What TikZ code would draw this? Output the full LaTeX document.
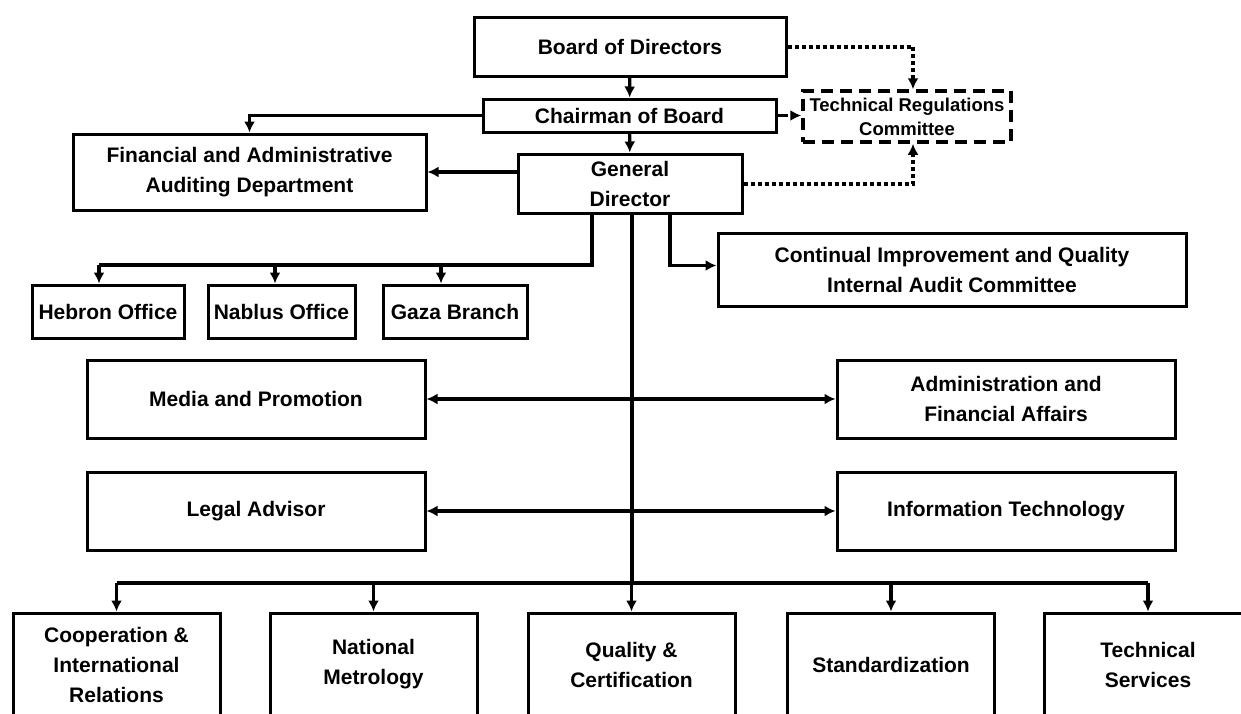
\documentclass[tikz,border=0pt]{standalone}
\usepackage{fontspec}
\setmainfont{Liberation Sans}
\usetikzlibrary{arrows.meta}

\begin{document}
\begin{tikzpicture}[x=0.5pt, y=-0.5pt, >={Latex[length=5.5pt,width=5.5pt]},
  box/.style={draw, line width=1.5pt, align=center, inner sep=0pt,
    font=\bfseries\fontsize{10.5}{15}\selectfont},
  unit/.style={box, minimum width=169pt, minimum height=39pt},
  dept/.style={box, minimum width=103.5pt, minimum height=51.5pt},
  office/.style={box, minimum height=26.5pt},
  link/.style={line width=1.6pt},
  dots/.style={line width=2pt, dash pattern=on 2pt off 1.5pt}]
  \useasboundingbox (0,0) rectangle (1241,713);
  \clip (0,0) rectangle (1241,713);
  \fill[white] (0,0) rectangle (1241,713);

  \node[box, minimum width=156pt, minimum height=29.5pt] (board) at (630,46.5) {Board of Directors};
  \node[box, minimum width=146.5pt, minimum height=16.5pt] (chair) at (629.5,115.5) {Chairman of Board};
  \node[box, minimum width=112pt, minimum height=29.5pt] (gd) at (630,183.5) {General\\Director};
  \node[box, dash pattern=on 6pt off 3.5pt, line width=1.75pt, minimum width=104pt, minimum height=25.5pt,
    font=\bfseries\fontsize{9.25}{12}\selectfont] (trc) at (907,116.5) {Technical Regulations\\Committee};
  \node[box, minimum width=176.5pt, minimum height=38pt] (faad) at (249.5,172) {Financial and Administrative\\Auditing Department};
  \node[box, minimum width=234pt, minimum height=36.5pt] (ciq) at (952,269.5) {Continual Improvement and Quality\\Internal Audit Committee};

  \node[office, minimum width=76pt] (hebron) at (108,311.5) {Hebron Office};
  \node[office, minimum width=73.5pt] (nablus) at (281.5,311.5) {Nablus Office};
  \node[office, minimum width=72pt] (gaza) at (455,311.5) {Gaza Branch};

  \node[unit] (media) at (256,399) {Media and Promotion};
  \node[unit] (admin) at (1006,399) {Administration and\\Financial Affairs};
  \node[unit] (legal) at (256,511) {Legal Advisor};
  \node[unit] (infotech) at (1006,511) {Information Technology};

  \node[dept] (coop) at (116.5,664.5) {Cooperation \&\\International\\Relations};
  \node[dept] (metro) at (373.5,664.5) {National\\Metrology};
  \node[dept] (quality) at (631.5,664.5) {Quality \&\\Certification};
  \node[dept] (stand) at (891,664.5) {Standardization};
  \node[dept] (techserv) at (1148,664.5) {Technical\\Services};

  \coordinate (offbar) at (99,265);
  \coordinate (hub) at (632,583);

  \draw[link, ->] (board) -- (chair);
  \draw[link, ->] (chair) -- (gd);
  \draw[link, ->] (chair.west) -| (faad.north);
  \draw[link, ->] (faad.east -| gd.west) -- (faad.east);
  \draw[link, dash pattern=on 5pt off 4pt, ->] (chair.east) -- (chair.east -| trc.west);
  \draw[dots, ->] (board.east) -| ([xshift=3pt]trc.north);
  \draw[dots, ->] (gd.east) -| ([xshift=3pt]trc.south);

  \draw[link] ([xshift=-19pt]gd.south) |- (offbar);
  \foreach \n/\s in {hebron/-4.5pt, nablus/-3.25pt, gaza/-7pt}
    \draw[link, ->] ([xshift=\s]\n.north |- offbar) -- ([xshift=\s]\n.north);
  \draw[link, ->] ([xshift=20pt]gd.south) |- ([yshift=2pt]ciq.west);

  \draw[link] ([xshift=1pt]gd.south) -- (hub);
  \draw[link] (coop.north |- hub) -- (techserv.north |- hub);
  \foreach \n in {coop, metro, quality, stand, techserv}
    \draw[link, ->] (\n.north |- hub) -- (\n.north);

  \draw[link, <->] (media.east) -- (admin.west);
  \draw[link, <->] (legal.east) -- (infotech.west);
\end{tikzpicture}
\end{document}
